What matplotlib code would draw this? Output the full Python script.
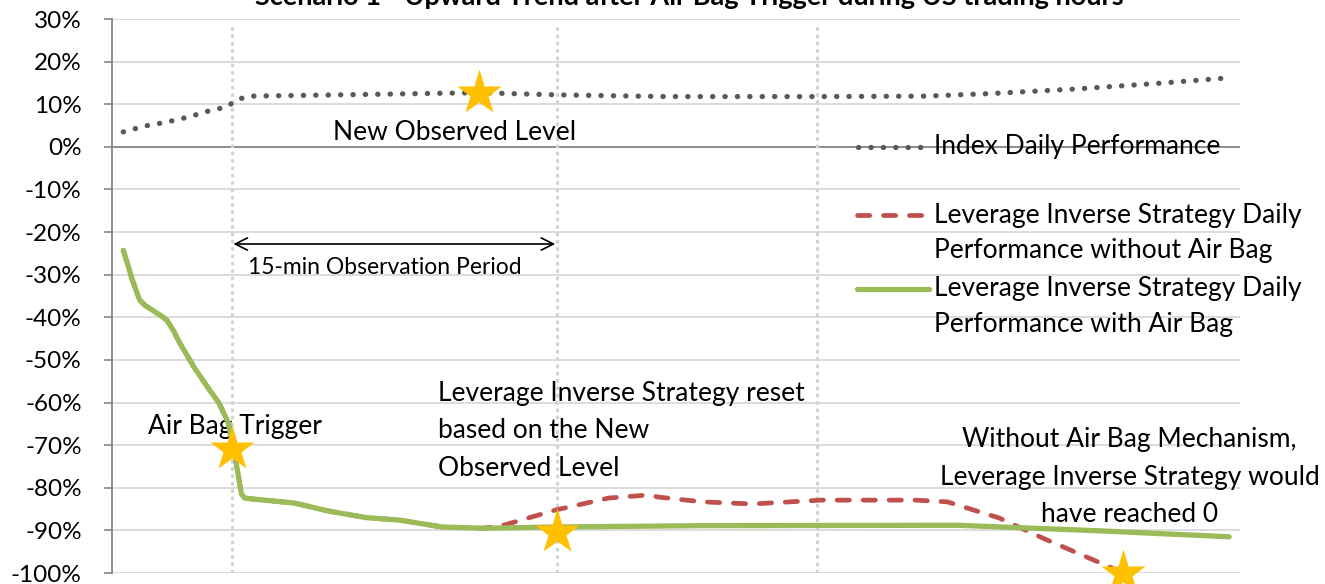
import matplotlib
matplotlib.use("Agg")
import matplotlib.pyplot as plt
from matplotlib.ticker import FuncFormatter

plt.rcParams['font.family'] = ['Lato', 'DejaVu Sans']

# time in minutes (air bag trigger at 5, reset at 20)
idx_t = [0, 1, 2, 3, 4, 4.8, 5.2, 5.8, 10, 15, 16.4, 20, 25, 32, 37, 40, 44, 48, 51]
idx_v = [3.5, 4.9, 5.8, 7.0, 8.5, 9.4, 11.0, 11.9, 12.2, 12.6, 12.7, 12.2, 11.8, 11.8, 11.9, 12.5, 13.6, 15.0, 16.2]

with_t = [0, 0.2, 0.4, 0.75, 1.0, 1.4, 1.7, 2.0, 2.3, 2.6, 3.25, 3.9, 4.4, 4.85, 5.2, 5.45, 5.6, 5.9,
          7.9, 9.5, 11.2, 12.75, 14.7, 16.6, 20, 26.6, 38.5, 45, 51]
with_v = [-24.3, -27.5, -31, -35.9, -37.2, -38.5, -39.5, -40.6, -43, -46, -51.6, -56.5, -60, -64.8, -74,
          -81.5, -82.4, -82.6, -83.6, -85.5, -87, -87.6, -89.2, -89.5, -89.2, -88.9, -88.8, -90.1, -91.5]

n_shared = with_t.index(16.6) + 1
without_t = with_t[:n_shared] + [17.6, 19.95, 22.4, 24.2, 24.7, 26.7, 29.0, 32.2, 36.5, 38.0, 40.4, 42.4, 45.5, 46.1]
without_v = with_v[:n_shared] + [-88.7, -85.2, -82.4, -81.7, -82.2, -83.3, -83.8, -82.9, -82.9, -83.3, -87.1, -91.8, -98.6, -100]

star_t = [16.4, 5, 20, 46.1]
star_v = [12.7, -70.9, -90.4, -100]

event_t = [5, 20, 32]
yticks = list(range(-100, 31, 10))

title = "Scenario 1 - Upward Trend after Air Bag Trigger during US trading hours"
labels = ["Index Daily Performance",
          "Leverage Inverse Strategy Daily\nPerformance without Air Bag",
          "Leverage Inverse Strategy Daily\nPerformance with Air Bag"]

RED = '#C0504D'
GREEN = '#9BBB59'
GREY = '#595959'
GOLD = '#FFC000'
FS = 19
LS = 1.62

fig = plt.figure(figsize=(13.25, 5.84), dpi=100)
W, H = 1325, 584
ax = fig.add_axes([112 / W, 11 / H, (1240 - 112) / W, (573 - 19) / H])

ax.set_ylim(-100, 30)
ax.set_xlim(-0.52, 51.5)
ax.set_yticks(yticks)
ax.yaxis.set_major_formatter(FuncFormatter(lambda v, p: f"{v:.0f}%"))
ax.tick_params(axis='y', length=5.8, width=1.2, color='#868686', labelsize=17.5, pad=16)
ax.set_xticks([])
ax.grid(axis='y', color='#D9D9D9', lw=1.3)
ax.set_axisbelow(True)
for s in ['top', 'right', 'bottom']:
    ax.spines[s].set_visible(False)
ax.spines['left'].set_color('#868686')
ax.spines['left'].set_linewidth(1.3)
ax.axhline(0, color='#868686', lw=1.3, zorder=1)

for t in event_t:
    ax.axvline(t, ymax=0.99, color='#D3D3D3', lw=2.2, ls=(0, (1.2, 1.2)), zorder=1)

red_style = dict(color=RED, lw=3.4, ls=(0, (2.6, 2.9)), dash_capstyle='round')
dot_style = dict(color=GREY, lw=3.8, ls=(0, (0.05, 2.3)), dash_capstyle='round')
green_style = dict(color=GREEN, lw=3.8, solid_capstyle='round')

ax.plot(without_t, without_v, zorder=3, **red_style)
ax.plot(with_t, with_v, zorder=4, **green_style)
ax.plot(idx_t, idx_v, zorder=4, **dot_style)
ax.plot(star_t, star_v, ls='none', marker='*', ms=34, color=GOLD, mec='none',
        clip_on=False, zorder=5)

# annotations
ax.annotate('', xy=(4.95, -22.8), xytext=(20.05, -22.8),
            arrowprops=dict(arrowstyle='<->', color='black', lw=1.2, mutation_scale=22))
ax.text(15.3, 3.3, "New Observed Level", ha='center', va='center', fontsize=FS)
ax.text(5.74, -28.4, "15-min Observation Period", ha='left', va='center', fontsize=16.5)
ax.text(1.12, -65.7, "Air Bag Trigger", ha='left', va='center', fontsize=FS)
ax.text(14.5, -66.6, "Leverage Inverse Strategy reset\nbased on the New\nObserved Level",
        ha='left', va='center', fontsize=FS, linespacing=LS)
ax.text(46.4, -77.5, "Without Air Bag Mechanism,\nLeverage Inverse Strategy would\nhave reached 0",
        ha='center', va='center', fontsize=FS, linespacing=LS, multialignment='center')

# legend drawn by hand so handles line up with the first text line
hx0, hx1, tx = 33.8, 36.9, 37.4
handle_y = [0, -16.0, -33.3]
line_gap = 8.3
ax.plot([hx0 + 0.1, hx1], [handle_y[0]] * 2, clip_on=False, zorder=4, **dot_style)
ax.plot([hx0 + 0.05, hx1 - 0.05], [handle_y[1]] * 2, clip_on=False, zorder=4, **red_style)
ax.plot([hx0 + 0.05, hx1 + 0.25], [handle_y[2]] * 2, clip_on=False, zorder=4, **green_style)
for y0, lab in zip(handle_y, labels):
    for k, part in enumerate(lab.split('\n')):
        ax.text(tx, y0 - k * line_gap, part, ha='left', va='center', fontsize=FS)

fig.text(689 / W, 1 - 5 / H, title, ha='center', va='baseline', fontsize=19.5, weight='bold')

fig.savefig('out.png', dpi=100)
